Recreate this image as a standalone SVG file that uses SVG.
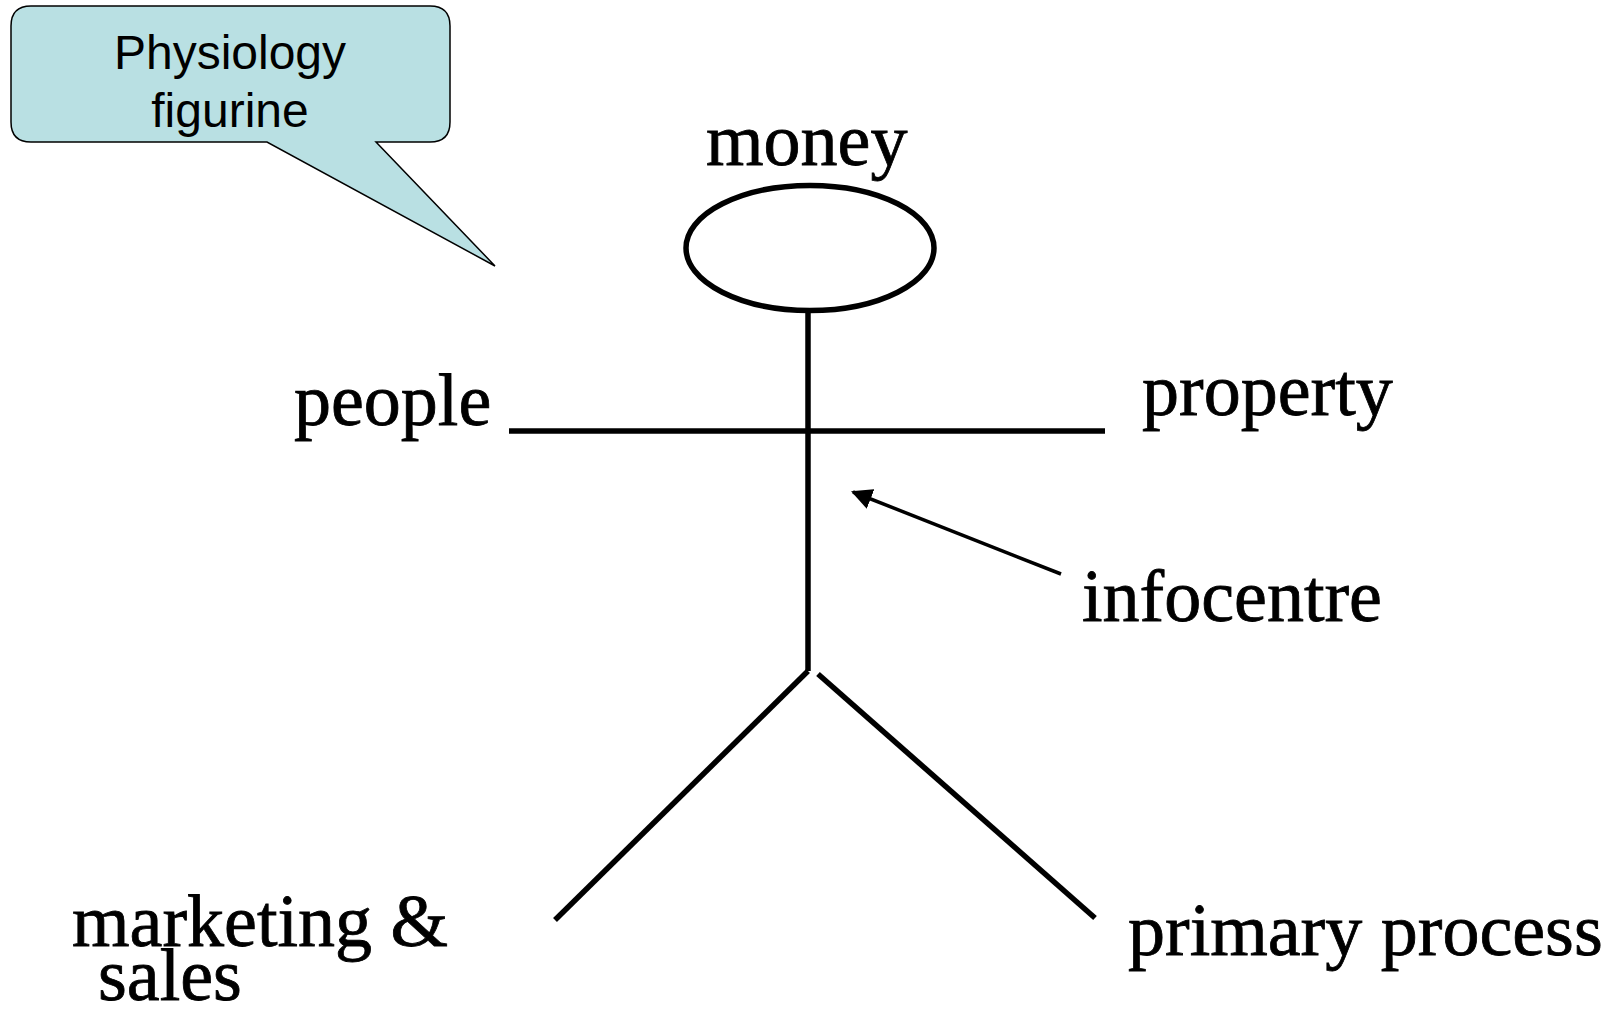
<svg xmlns="http://www.w3.org/2000/svg" width="1618" height="1009" viewBox="0 0 1618 1009">
<style>
.lbl{font-family:"Liberation Serif","Times New Roman",serif;font-size:74px;fill:#000;stroke:#000;stroke-width:0.8}
.fig{stroke:#000;stroke-width:5.5;fill:none;stroke-linecap:butt}
.callout{font-family:"Liberation Sans",Arial,sans-serif;font-size:48px;fill:#000;text-anchor:middle}
</style>
<defs>
<marker id="ah" viewBox="0 0 10 10" refX="9" refY="5" markerWidth="6" markerHeight="6" orient="auto" markerUnits="strokeWidth">
<path d="M0,0 L10,5 L0,10 z" fill="#000"/>
</marker>
</defs>
<rect width="1618" height="1009" fill="#fff"/>
<g id="callout">
<path d="M31,6 H430 Q450,6 450,26 V122 Q450,142 430,142 H376 L495,266 L267,142 H31 Q11,142 11,122 V26 Q11,6 31,6 Z" fill="#B9E0E3" stroke="#000" stroke-width="1.5"/>
<text class="callout" x="230" y="69">Physiology</text>
<text class="callout" x="230" y="127">figurine</text>
</g>
<g id="figure">
<ellipse class="fig" cx="810" cy="248" rx="124" ry="62.5"/>
<line class="fig" x1="808" y1="311" x2="808" y2="671"/>
<line class="fig" x1="509" y1="431" x2="1105" y2="431"/>
<line class="fig" x1="808" y1="671" x2="555" y2="920"/>
<line class="fig" x1="818" y1="674" x2="1095" y2="918"/>
</g>
<g id="connectors">
<line x1="1061" y1="574" x2="853" y2="492" stroke="#000" stroke-width="3.5" marker-end="url(#ah)"/>
</g>
<g id="money"><text class="lbl" x="706" y="165">money</text></g>
<g id="people"><text class="lbl" x="294" y="425">people</text></g>
<g id="property"><text class="lbl" x="1142" y="415">property</text></g>
<g id="infocentre"><text class="lbl" x="1082" y="621">infocentre</text></g>
<g id="marketing"><text class="lbl" x="72" y="946">marketing &amp;</text><text class="lbl" x="98" y="1000">sales</text></g>
<g id="primary"><text class="lbl" x="1128" y="955">primary process</text></g>
</svg>
